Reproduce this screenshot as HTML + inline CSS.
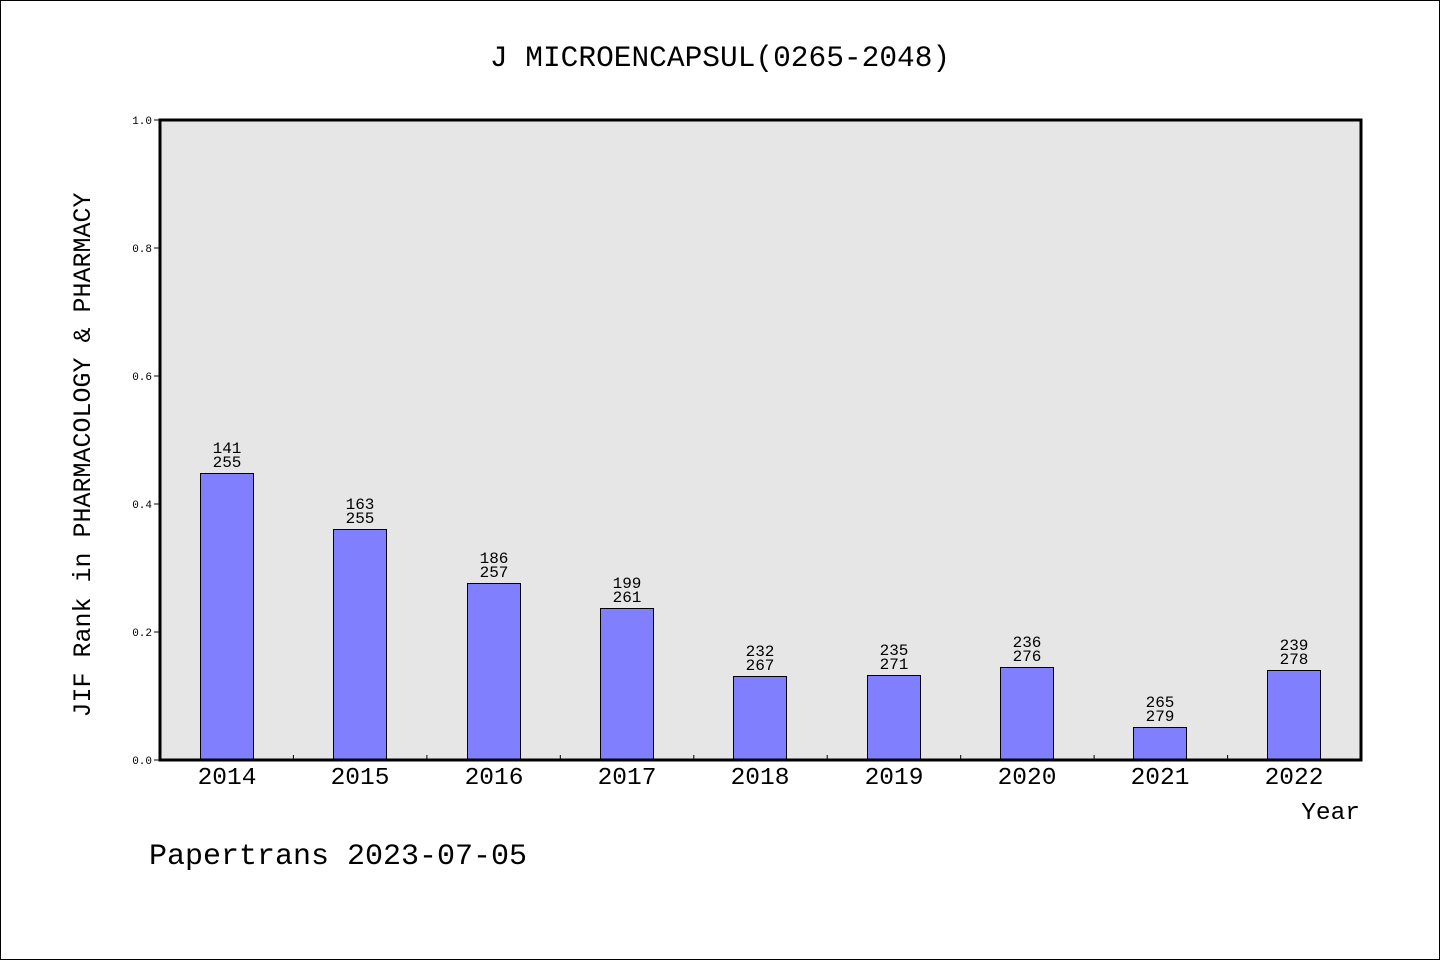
<!DOCTYPE html>
<html><head><meta charset="utf-8"><style>
html,body{margin:0;padding:0;background:#fff}
svg{display:block}
text{font-family:"Liberation Mono",monospace;fill:#000}
</style></head><body>
<svg width="1440" height="960" viewBox="0 0 1440 960" xmlns="http://www.w3.org/2000/svg">
<rect x="0.5" y="0.5" width="1439" height="959" fill="#fff" stroke="#000" stroke-width="1"/>
<text x="720" y="66" font-size="29.5" text-anchor="middle">J MICROENCAPSUL(0265-2048)</text>
<rect x="160" y="120" width="1201" height="640" fill="#e6e6e6"/>
<g font-size="11" text-anchor="end">
<text x="152" y="764">0.0</text><text x="152" y="636">0.2</text><text x="152" y="508">0.4</text>
<text x="152" y="380">0.6</text><text x="152" y="252">0.8</text><text x="152" y="124">1.0</text>
</g>
<g stroke="#000" stroke-width="1">
<line x1="154" y1="760" x2="160" y2="760"/><line x1="154" y1="632" x2="160" y2="632"/>
<line x1="154" y1="504" x2="160" y2="504"/><line x1="154" y1="376" x2="160" y2="376"/>
<line x1="154" y1="248" x2="160" y2="248"/><line x1="154" y1="120" x2="160" y2="120"/>
<line x1="293.4" y1="755" x2="293.4" y2="760"/><line x1="426.9" y1="755" x2="426.9" y2="760"/>
<line x1="560.3" y1="755" x2="560.3" y2="760"/><line x1="693.8" y1="755" x2="693.8" y2="760"/>
<line x1="827.2" y1="755" x2="827.2" y2="760"/><line x1="960.7" y1="755" x2="960.7" y2="760"/>
<line x1="1094.1" y1="755" x2="1094.1" y2="760"/><line x1="1227.6" y1="755" x2="1227.6" y2="760"/>
</g>
<g fill="#8080ff" stroke="#000" stroke-width="1">
<rect x="200.5" y="473.5" width="53" height="286.5"/>
<rect x="333.5" y="529.5" width="53" height="230.5"/>
<rect x="467.5" y="583.5" width="53" height="176.5"/>
<rect x="600.5" y="608.5" width="53" height="151.5"/>
<rect x="733.5" y="676.5" width="53" height="83.5"/>
<rect x="867.5" y="675.5" width="53" height="84.5"/>
<rect x="1000.5" y="667.5" width="53" height="92.5"/>
<rect x="1133.5" y="727.5" width="53" height="32.5"/>
<rect x="1267.5" y="670.5" width="53" height="89.5"/>
</g>
<g font-size="16" text-anchor="middle">
<text x="227" y="453">141</text><text x="227" y="467">255</text>
<text x="360" y="509">163</text><text x="360" y="523">255</text>
<text x="494" y="563">186</text><text x="494" y="577">257</text>
<text x="627" y="588">199</text><text x="627" y="602">261</text>
<text x="760" y="656">232</text><text x="760" y="670">267</text>
<text x="894" y="655">235</text><text x="894" y="669">271</text>
<text x="1027" y="647">236</text><text x="1027" y="661">276</text>
<text x="1160" y="707">265</text><text x="1160" y="721">279</text>
<text x="1294" y="650">239</text><text x="1294" y="664">278</text>
</g>
<rect x="160" y="120" width="1201" height="640" fill="none" stroke="#000" stroke-width="3"/>
<g font-size="24.5" text-anchor="middle">
<text x="227" y="784">2014</text><text x="360" y="784">2015</text><text x="494" y="784">2016</text>
<text x="627" y="784">2017</text><text x="760" y="784">2018</text><text x="894" y="784">2019</text>
<text x="1027" y="784">2020</text><text x="1160" y="784">2021</text><text x="1294" y="784">2022</text>
</g>
<text x="1360" y="819" font-size="24.5" text-anchor="end">Year</text>
<text x="90" y="455" font-size="25" text-anchor="middle" transform="rotate(-90 90 455)">JIF Rank in PHARMACOLOGY &amp; PHARMACY</text>
<text x="149" y="864" font-size="30">Papertrans 2023-07-05</text>
</svg>
</body></html>
